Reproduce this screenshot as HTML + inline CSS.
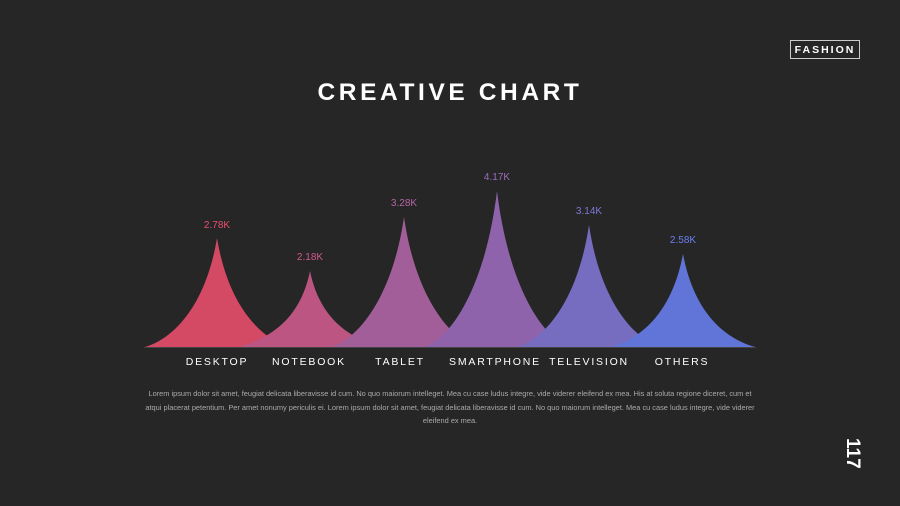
<!DOCTYPE html>
<html><head><meta charset="utf-8"><style>
body{margin:0;width:900px;height:506px;background:#262626;overflow:hidden;font-family:"Liberation Sans",sans-serif;position:relative}
.t{position:absolute;left:0;width:900px;top:79px;text-align:center;color:#fff;font-weight:bold;font-size:24.5px;letter-spacing:3.6px}
.f{position:absolute;left:790px;top:40px;width:68px;height:17px;border:1px solid #ccc;color:#fff;font-size:10.5px;font-weight:bold;letter-spacing:2px;text-align:center;line-height:18px;box-sizing:content-box}
.n{position:absolute;top:438px;color:#fff;font-weight:bold;font-size:19px;transform:rotate(90deg);transform-origin:left top;left:863px}
.p{position:absolute;left:142px;width:616px;top:387px;text-align:center;color:#aaa;font-size:7.4px;line-height:13.5px}
</style></head><body>
<div class="t">CREATIVE CHART</div>
<div class="f">FASHION</div>
<div class="n">117</div>
<svg width="900" height="506" style="position:absolute;left:0;top:0">
<g opacity="0.88">
<path d="M145,347 C170,340 205,310 217,238 C229,310 264,340 290,347Z" fill="#ec4e6d"/>
<path d="M238,347 C263,340 299,325 310,271 C321,325 357,340 382,347Z" fill="#d15c8e"/>
<path d="M331,347 C356,340 392,300 404,217 C416,300 452,340 477,347Z" fill="#b466a9"/>
<path d="M424,347 C449,340 485,290 497,191 C509,290 545,340 570,347Z" fill="#9d6cbf"/>
<path d="M517,347 C542,340 577,305 589,225 C601,305 636,340 661,347Z" fill="#8277d6"/>
<path d="M611,347 C636,340 671,318 683,254 C695,318 730,340 755,347Z" fill="#6a80f2"/>
</g>
<line x1="144" y1="347.5" x2="756" y2="347.5" stroke="#444" stroke-width="1"/>
<g font-family="Liberation Sans,sans-serif" font-size="10" text-anchor="middle">
<text x="217" y="228" fill="#e9506f">2.78K</text>
<text x="310" y="260" fill="#d05a8a">2.18K</text>
<text x="404" y="206" fill="#b466a8">3.28K</text>
<text x="497" y="180" fill="#9b6cbd">4.17K</text>
<text x="589" y="214" fill="#7f78d6">3.14K</text>
<text x="683" y="243" fill="#6a7ff0">2.58K</text>
</g>
<g font-family="Liberation Sans,sans-serif" font-size="10.5" fill="#fff" text-anchor="middle" letter-spacing="1.8">
<text x="217" y="365">DESKTOP</text>
<text x="309" y="365">NOTEBOOK</text>
<text x="400" y="365">TABLET</text>
<text x="495" y="365">SMARTPHONE</text>
<text x="589" y="365">TELEVISION</text>
<text x="682" y="365">OTHERS</text>
</g>
</svg>
<div class="p">Lorem ipsum dolor sit amet, feugiat delicata liberavisse id cum. No quo maiorum intelleget. Mea cu case ludus integre, vide viderer eleifend ex mea. His at soluta regione diceret, cum et atqui placerat petentium. Per amet nonumy periculis ei. Lorem ipsum dolor sit amet, feugiat delicata liberavisse id cum. No quo maiorum intelleget. Mea cu case ludus integre, vide viderer eleifend ex mea.</div>
</body></html>
